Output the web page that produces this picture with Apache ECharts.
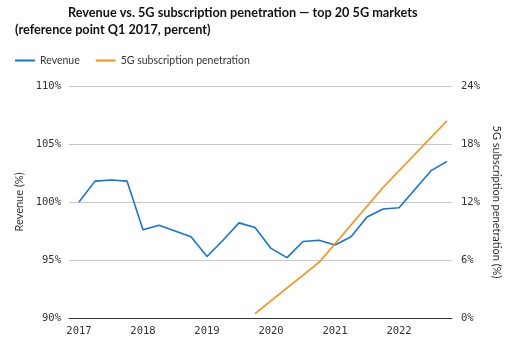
<!DOCTYPE html>
<html>
<head>
<meta charset="utf-8">
<script src="https://cdn.jsdelivr.net/npm/echarts@6/dist/echarts.min.js"></script>
<style>
html,body{margin:0;padding:0;background:#fff;}
#chart{width:512px;height:340px;}
</style>
</head>
<body>
<div id="chart"></div>
<script>
// Quarters Q1 2017 .. Q4 2022 (index 0..23)
const quarterIndex = [0,1,2,3,4,5,6,7,8,9,10,11,12,13,14,15,16,17,18,19,20,21,22,23];
const revenue = [100.0,101.8,101.9,101.8,97.6,98.0,97.5,97.0,95.3,96.7,98.2,97.8,96.0,95.2,96.6,96.7,96.3,97.0,98.7,99.4,99.5,101.1,102.7,103.5];
const penetration = [null,null,null,null,null,null,null,null,null,null,null,0.45,null,null,null,5.75,null,null,null,13.5,null,null,null,20.4];
const yearTickPositions = [0,4,8,12,16,20];
const yearLabels = ['2017','2018','2019','2020','2021','2022'];

const mono = 'DejaVu Sans Mono';
const sans = 'Lato';

const chart = echarts.init(document.getElementById('chart'), null, {renderer:'canvas'});
chart.setOption({
  animation:false,
  backgroundColor:'#fff',
  title:[
    {text:'Revenue vs. 5G subscription penetration \u2014 top 20 5G markets', left:63, top:1, padding:5,
     textStyle:{fontFamily:sans, fontWeight:'bold', fontSize:12.7, color:'#111'}},
    {text:'(reference point Q1 2017, percent)', left:10, top:18, padding:5,
     textStyle:{fontFamily:sans, fontWeight:'bold', fontSize:12.7, color:'#111'}}
  ],
  legend:{
    left:10, top:50, itemWidth:20, itemHeight:2, itemGap:16, icon:'rect',
    textStyle:{fontFamily:sans, fontSize:10.5, color:'#333'},
    data:['Revenue','5G subscription penetration']
  },
  grid:{left:69, right:60, top:86, bottom:22, containLabel:false},
  xAxis:{
    type:'value', min:-0.625, max:23.31,
    axisLine:{show:true, lineStyle:{color:'#333', width:1}},
    axisTick:{show:false},
    splitLine:{show:false},
    axisLabel:{
      customValues:yearTickPositions,
      formatter:function(v){ return yearLabels[yearTickPositions.indexOf(v)] || ''; },
      fontFamily:mono, fontSize:10.5, color:'#333', margin:8
    }
  },
  yAxis:[
    {type:'value', min:90, max:110, interval:5,
     name:'Revenue (%)', nameLocation:'middle', nameGap:44, nameRotate:90,
     nameTextStyle:{fontFamily:sans, fontSize:11, color:'#333'},
     axisLine:{show:false}, axisTick:{show:false},
     splitLine:{lineStyle:{color:'#c8c8c8', width:1}},
     axisLabel:{formatter:'{value}%', fontFamily:mono, fontSize:10.5, color:'#333', margin:8}},
    {type:'value', min:0, max:24, interval:6, position:'right',
     name:'5G subscription penetration (%)', nameLocation:'middle', nameGap:38, nameRotate:-90,
     nameTextStyle:{fontFamily:sans, fontSize:11, color:'#333'},
     axisLine:{show:false}, axisTick:{show:false},
     splitLine:{show:false},
     axisLabel:{formatter:'{value}%', fontFamily:mono, fontSize:10.5, color:'#333', margin:9}}
  ],
  series:[
    {name:'Revenue', type:'line', yAxisIndex:0, showSymbol:false, symbol:'none',
     lineStyle:{color:'#1174E6', width:1.6}, itemStyle:{color:'#1174E6'},
     data:quarterIndex.map((q,i)=>[q, revenue[i]])},
    {name:'5G subscription penetration', type:'line', yAxisIndex:1, showSymbol:false, symbol:'none',
     connectNulls:true,
     lineStyle:{color:'#FF8C0A', width:1.6}, itemStyle:{color:'#FF8C0A'},
     data:quarterIndex.map((q,i)=>[q, penetration[i]])}
  ]
});
</script>
</body>
</html>
